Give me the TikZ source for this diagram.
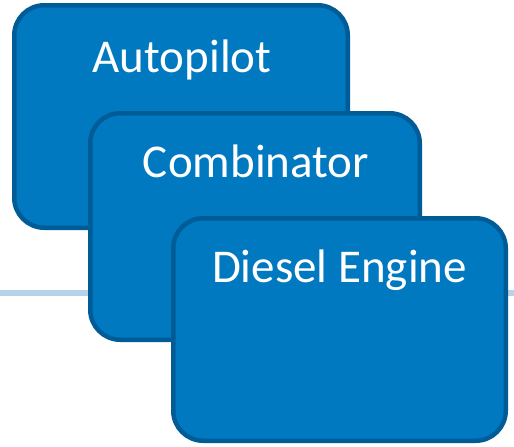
\documentclass[tikz,border=0pt]{standalone}
\usepackage{fontspec}
\setmainfont{Carlito}
\definecolor{boxfill}{HTML}{0079C1}
\definecolor{boxedge}{HTML}{005C97}
\definecolor{rule}{HTML}{B5D3EA}
\begin{document}
\begin{tikzpicture}[x=1pt,y=-1pt,
  stackbox/.style={draw=boxedge, fill=boxfill, line width=4.5pt,
    rounded corners=30pt, inner sep=0pt, outer sep=0pt},
  boxlabel/.style={text=white, font=\fontsize{47}{51}\selectfont,
    anchor=base, inner sep=0pt}]
  \useasboundingbox (0,0) rectangle (514,447);
  % pale horizontal rule behind the stack
  \coordinate (ruleL) at (0,293);
  \coordinate (ruleR) at (514,293);
  \draw[rule, line width=6pt] (ruleL) -- (ruleR);
  % stacked boxes, back to front
  \node[stackbox, minimum width=333.5pt, minimum height=222.5pt] (auto) at (181,116.5) {};
  \node[boxlabel] (autoT) at (182,72) {Autopilot};
  \node[stackbox, minimum width=329.5pt, minimum height=226.5pt] (comb) at (255,226.5) {};
  \node[boxlabel] (combT) at (256,177) {Combinator};
  \node[stackbox, minimum width=332.5pt, minimum height=222.5pt] (dies) at (339.5,329.5) {};
  \node[boxlabel] (diesT) at (339.5,282) {Diesel Engine};
\end{tikzpicture}
\end{document}
